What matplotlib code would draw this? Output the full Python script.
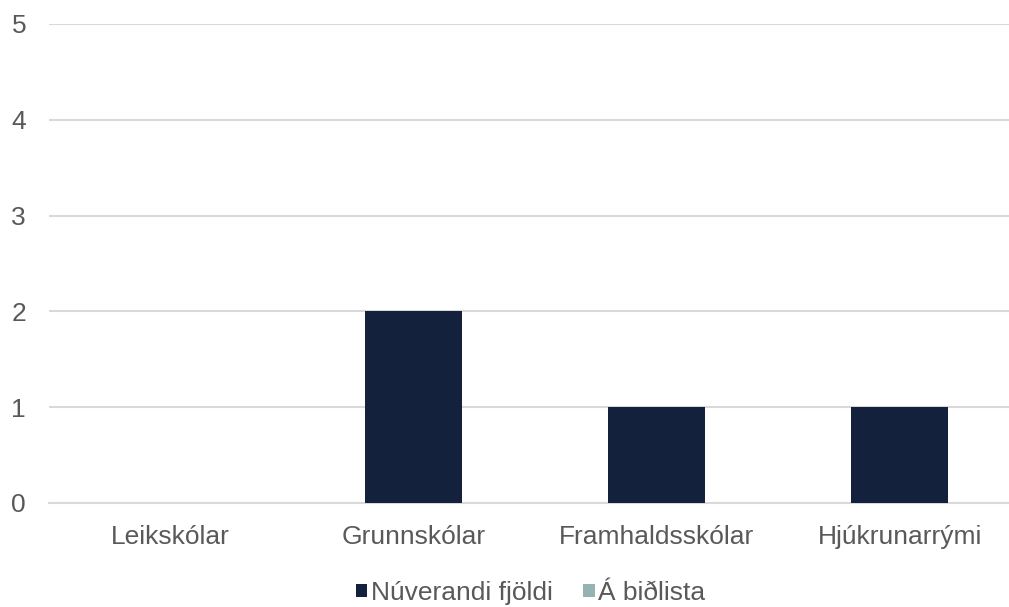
import matplotlib.pyplot as plt
import numpy as np

# data
categories = ['Leikskólar', 'Grunnskólar', 'Framhaldsskólar', 'Hjúkrunarrými']
nuverandi = [0, 2, 1, 1]
bidlisti = [0, 0, 0, 0]
yticks = [0, 1, 2, 3, 4, 5]

plt.rcParams['font.family'] = ['Liberation Sans', 'DejaVu Sans']

fig = plt.figure(figsize=(10.09, 6.07), dpi=100)
ax = fig.add_axes([49 / 1009, 104 / 607, 960 / 1009, 479 / 607])

x = np.arange(len(categories))
# overlap 100%, gap 150% -> both series at the category centre
ax.bar(x, nuverandi, width=0.4, color='#14213d', label='Núverandi fjöldi', zorder=3)
ax.bar(x, bidlisti, width=0.4, color='#95b3b3', label='Á biðlista', zorder=3)

ax.set_xlim(-0.5, 3.45)
ax.set_ylim(0, 5)
ax.set_yticks(yticks)
ax.set_xticks(x)
ax.set_xticklabels(categories)
ax.yaxis.grid(True, color='#d9d9d9', linewidth=1.5, zorder=0)
ax.set_axisbelow(True)
for s in ['top', 'right', 'left']:
    ax.spines[s].set_visible(False)
ax.spines['bottom'].set_color('#d9d9d9')
ax.spines['bottom'].set_linewidth(1.5)
ax.tick_params(axis='both', length=0, labelsize=19, colors='#595959')
ax.tick_params(axis='y', pad=16.5)
ax.tick_params(axis='x', pad=15.5)

leg = ax.legend(loc='center', bbox_to_anchor=(482 / 960, -90 / 479), ncol=2,
                frameon=False, fontsize=19, handlelength=0.42, handleheight=0.42,
                handletextpad=0.15, columnspacing=1.14)
for t in leg.get_texts():
    t.set_color('#595959')

fig.savefig('out.png', dpi=100)
